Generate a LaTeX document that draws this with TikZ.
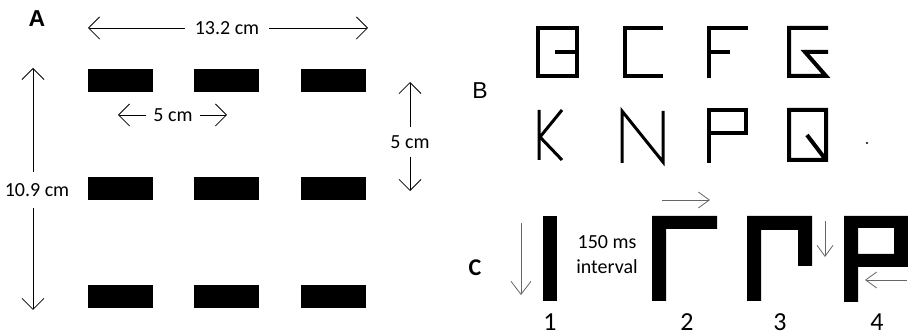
\documentclass[tikz,border=0pt]{standalone}
\usepackage{fontspec}
\setmainfont{Carlito}
\newfontfamily\arialfont{Liberation Sans}
\usetikzlibrary{arrows.meta}

\begin{document}
\begin{tikzpicture}%
    [x = 1pt, y = -1pt,
     dim/.style = {-{Straight Barb[length = 11pt, width = 22pt]}, line width = 0.8pt},
     dimtext/.style = {font = \fontsize{20}{24}\selectfont, inner sep = 0pt},
     stroke/.style = {line width = 4pt},
     thinstroke/.style = {line width = 3pt},
     move/.style = {-{Straight Barb[length = 11pt, width = 16pt]}, line width = 0.8pt, black!60},
     panel/.style = {font = \arialfont\fontsize{23}{26}\selectfont, inner sep = 0pt},
     frame/.style = {font = \fontsize{26}{29}\selectfont, anchor = base, inner sep = 0pt}]
    \useasboundingbox (0,0) rectangle (908,336);

    % A: the nine bars
    \node [panel, font = \arialfont\bfseries\fontsize{23}{26}\selectfont] (panelA) at (37,19) {A};
    \foreach \x in {88,194,301}
        \foreach \y in {69,177,285}
            \fill (\x,\y) rectangle ++(65,23);

    \coordinate (widthL) at (88,28);
    \coordinate (widthR) at (368,28);
    \node [dimtext, inner xsep = 10pt] (width) at (227,28) {13.2 cm};
    \draw [dim] (width.west) -- (widthL);
    \draw [dim] (width.east) -- (widthR);

    \coordinate (heightT) at (33,68);
    \coordinate (heightB) at (33,310);
    \node [dimtext, inner ysep = 11pt] (height) at (37,190) {10.9 cm};
    \draw [dim] (height.north -| heightT) -- (heightT);
    \draw [dim] (height.south -| heightB) -- (heightB);

    \coordinate (gapL) at (118,115);
    \coordinate (gapR) at (227,115);
    \node [dimtext, inner xsep = 7pt] (gapH) at (173,115) {5 cm};
    \draw [dim] (gapH.west) -- (gapL);
    \draw [dim] (gapH.east) -- (gapR);

    \coordinate (gapT) at (410,82);
    \coordinate (gapB) at (410,191);
    \node [dimtext, inner ysep = 8pt] (gapV) at (410,142) {5 cm};
    \draw [dim] (gapV.north) -- (gapT);
    \draw [dim] (gapV.south) -- (gapB);

    % B: the letter set
    \node [panel] (panelB) at (480,91) {B};
    \draw [stroke] (538,28) rectangle (577,76) (555,52) -- (577,52);
    \draw [stroke] (663,28) -- (625,28) -- (625,76) -- (663,76);
    \draw [stroke] (748,28) -- (709,28) -- (709,78) (709,52) -- (730,52);
    \draw [stroke] (828,28) -- (789,28) -- (789,76) -- (826,76) -- (805,52) -- (828,52);

    \draw [thinstroke] (539,110) -- (539,160) (562,110) -- (540,137) -- (562,160);
    \draw [thinstroke] (622,163) -- (622,111) -- (663,162) -- (663,111);
    \draw [stroke] (709,163) -- (709,110) -- (746,110) -- (746,133) -- (709,133);
    \draw [stroke] (789,110) rectangle (826,160) (807,135) -- (826,160);
    \fill (867,143) circle (1.2pt);

    % C: one letter shown in four frames
    \node [panel, font = \bfseries\fontsize{24}{27}\selectfont] (panelC) at (475,268) {C};
    \fill (543,216) rectangle (557,301);
    \fill (652,216) -- (717,216) -- (717,229) -- (666,229) -- (666,301) -- (652,301) -- cycle;
    \fill (747,216) -- (812,216) -- (812,266) -- (798,266) -- (798,230) -- (761,230) -- (761,301) -- (747,301) -- cycle;
    \fill [even odd rule] (844,216) -- (908,216) -- (908,267) -- (858,267) -- (858,302) -- (844,302) -- cycle
        (858,228) rectangle (894,254);

    \node [dimtext, align = center, font = \fontsize{20}{25}\selectfont] (interval) at (607,255) {150 ms\\interval};

    \coordinate (down1S) at (521,223);
    \coordinate (down1E) at (521,295);
    \draw [move, -{Straight Barb[length = 13pt, width = 20pt]}] (down1S) -- (down1E);
    \coordinate (rightS) at (662,200);
    \coordinate (rightE) at (710,200);
    \draw [move] (rightS) -- (rightE);
    \coordinate (down3S) at (825,221);
    \coordinate (down3E) at (825,257);
    \draw [move] (down3S) -- (down3E);
    \coordinate (leftS) at (907,280);
    \coordinate (leftE) at (865,280);
    \draw [move] (leftS) -- (leftE);

    \node [frame] (frame1) at (550,331) {1};
    \node [frame] (frame2) at (687,331) {2};
    \node [frame] (frame3) at (780,331) {3};
    \node [frame] (frame4) at (877,331) {4};
\end{tikzpicture}
\end{document}
